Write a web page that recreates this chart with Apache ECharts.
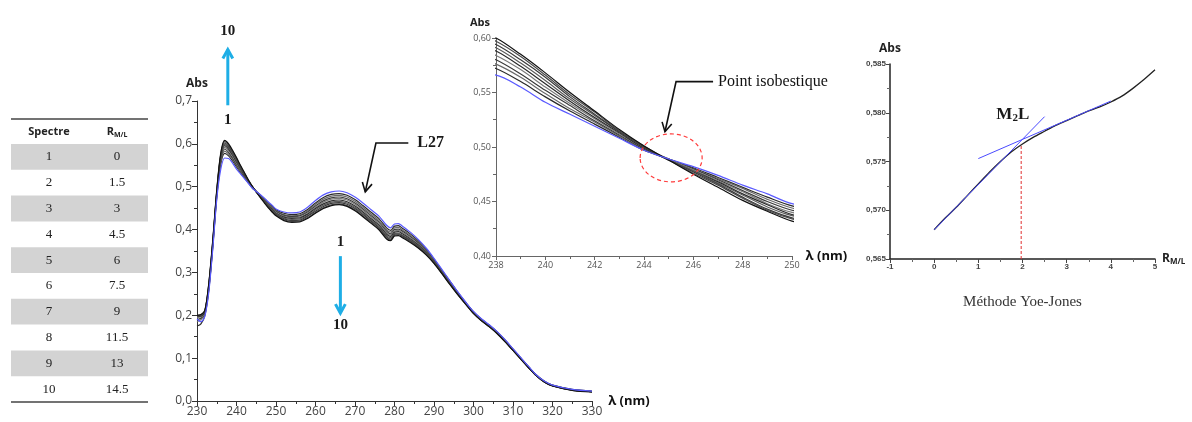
<!DOCTYPE html>
<html>
<head>
<meta charset="utf-8">
<script src="https://cdn.jsdelivr.net/npm/echarts@6/dist/echarts.min.js"></script>
<style>
html, body { margin: 0; background: #fff; }
#main { width: 1192px; height: 422px; }
</style>
</head>
<body>
<div id="main"></div>
<script>
// wavelengths (nm)
var nm = [230,231,232,233,234,235,236,237,238,239,240,241,242,243,244,245,246,247,248,249,250,252,254,256,258,260,262,264,266,268,270,272,274,276,278,279,280,281,282,284,286,288,290,292,294,296,298,300,302,304,306,308,310,312,314,316,318,320,325,330];

// absorbance of spectra 1..10 (1 = blue)
var spec1 = [0.192,0.185,0.198,0.255,0.355,0.470,0.540,0.567,0.566,0.555,0.541,0.530,0.519,0.508,0.497,0.489,0.482,0.474,0.465,0.457,0.448,0.441,0.439,0.441,0.452,0.468,0.481,0.488,0.490,0.486,0.476,0.462,0.447,0.432,0.410,0.404,0.413,0.414,0.408,0.394,0.377,0.357,0.333,0.307,0.281,0.255,0.231,0.209,0.192,0.178,0.162,0.143,0.122,0.101,0.080,0.060,0.046,0.037,0.027,0.023];
var spec2 = [0.175,0.180,0.200,0.260,0.360,0.475,0.552,0.578,0.572,0.560,0.546,0.533,0.521,0.509,0.497,0.489,0.481,0.472,0.463,0.454,0.446,0.438,0.435,0.437,0.447,0.462,0.475,0.482,0.484,0.480,0.470,0.456,0.441,0.426,0.404,0.398,0.408,0.409,0.403,0.390,0.374,0.355,0.331,0.305,0.280,0.254,0.230,0.208,0.191,0.177,0.161,0.142,0.121,0.100,0.079,0.060,0.046,0.037,0.027,0.023];
var spec3 = [0.185,0.190,0.203,0.262,0.362,0.478,0.556,0.583,0.576,0.564,0.549,0.535,0.523,0.510,0.498,0.489,0.480,0.471,0.462,0.452,0.444,0.435,0.432,0.434,0.444,0.459,0.471,0.478,0.480,0.476,0.466,0.452,0.437,0.422,0.400,0.394,0.404,0.405,0.399,0.387,0.371,0.352,0.329,0.304,0.279,0.253,0.230,0.208,0.191,0.177,0.161,0.142,0.121,0.100,0.079,0.059,0.045,0.037,0.026,0.022];
var spec4 = [0.190,0.193,0.205,0.264,0.364,0.480,0.560,0.588,0.580,0.567,0.552,0.538,0.524,0.511,0.498,0.489,0.480,0.470,0.460,0.450,0.442,0.433,0.430,0.432,0.441,0.455,0.467,0.474,0.476,0.472,0.462,0.448,0.433,0.418,0.396,0.390,0.400,0.401,0.396,0.384,0.369,0.350,0.328,0.303,0.278,0.252,0.229,0.207,0.190,0.176,0.160,0.141,0.120,0.099,0.079,0.059,0.045,0.036,0.026,0.022];
var spec5 = [0.195,0.196,0.207,0.266,0.366,0.482,0.563,0.592,0.584,0.571,0.555,0.540,0.526,0.512,0.499,0.489,0.479,0.469,0.459,0.448,0.440,0.431,0.428,0.429,0.438,0.452,0.464,0.471,0.473,0.469,0.459,0.445,0.430,0.415,0.393,0.387,0.397,0.398,0.393,0.381,0.366,0.348,0.326,0.302,0.277,0.252,0.229,0.207,0.190,0.176,0.160,0.141,0.120,0.099,0.078,0.059,0.045,0.036,0.026,0.022];
var spec6 = [0.197,0.198,0.208,0.268,0.368,0.484,0.566,0.596,0.588,0.574,0.558,0.542,0.527,0.513,0.499,0.488,0.478,0.468,0.457,0.447,0.438,0.429,0.426,0.427,0.436,0.449,0.460,0.467,0.469,0.465,0.455,0.441,0.426,0.411,0.389,0.384,0.394,0.395,0.390,0.378,0.364,0.346,0.325,0.301,0.276,0.251,0.228,0.206,0.189,0.175,0.159,0.140,0.119,0.099,0.078,0.059,0.045,0.036,0.026,0.022];
var spec7 = [0.198,0.200,0.209,0.270,0.370,0.486,0.569,0.599,0.591,0.577,0.561,0.544,0.529,0.514,0.500,0.488,0.478,0.467,0.456,0.445,0.437,0.427,0.424,0.425,0.433,0.446,0.457,0.464,0.466,0.462,0.452,0.438,0.423,0.408,0.386,0.381,0.391,0.392,0.387,0.376,0.362,0.345,0.324,0.300,0.275,0.250,0.228,0.206,0.189,0.175,0.159,0.140,0.119,0.098,0.078,0.058,0.045,0.036,0.026,0.022];
var spec8 = [0.199,0.200,0.210,0.272,0.372,0.488,0.572,0.602,0.594,0.580,0.564,0.546,0.530,0.514,0.500,0.488,0.477,0.466,0.454,0.443,0.435,0.425,0.421,0.422,0.431,0.443,0.454,0.461,0.463,0.459,0.449,0.435,0.420,0.405,0.383,0.378,0.389,0.390,0.385,0.374,0.360,0.343,0.323,0.299,0.274,0.250,0.227,0.205,0.188,0.174,0.158,0.139,0.118,0.098,0.077,0.058,0.044,0.036,0.026,0.022];
var spec9 = [0.200,0.201,0.211,0.274,0.374,0.490,0.575,0.605,0.597,0.583,0.566,0.548,0.532,0.515,0.501,0.488,0.476,0.465,0.453,0.442,0.434,0.423,0.419,0.420,0.428,0.440,0.451,0.458,0.460,0.456,0.446,0.432,0.417,0.402,0.380,0.376,0.387,0.388,0.383,0.372,0.358,0.342,0.322,0.298,0.273,0.249,0.226,0.205,0.188,0.174,0.158,0.139,0.118,0.098,0.077,0.058,0.044,0.035,0.025,0.022];
var spec10 = [0.200,0.202,0.212,0.276,0.376,0.492,0.578,0.608,0.600,0.585,0.568,0.550,0.533,0.516,0.501,0.488,0.475,0.463,0.451,0.441,0.432,0.421,0.417,0.418,0.426,0.438,0.449,0.456,0.458,0.454,0.444,0.430,0.415,0.400,0.378,0.374,0.385,0.386,0.381,0.370,0.357,0.341,0.321,0.297,0.272,0.248,0.226,0.204,0.187,0.173,0.157,0.138,0.118,0.097,0.077,0.058,0.044,0.035,0.025,0.021];
var spectra = [spec1, spec2, spec3, spec4, spec5, spec6, spec7, spec8, spec9, spec10];

// table
var spectreNo = ['1','2','3','4','5','6','7','8','9','10'];
var ratioML = ['0','1.5','3','4.5','6','7.5','9','11.5','13','14.5'];

// Yoe-Jones plot
var yjR = [0,0.25,0.5,0.75,1,1.25,1.5,1.75,2,2.25,2.5,2.75,3,3.25,3.5,3.75,4,4.25,4.5,4.75,5];
var yjAbs = [0.5680,0.5692,0.5703,0.5715,0.5727,0.5739,0.5750,0.5760,0.5768,0.5775,0.5781,0.5787,0.5792,0.5797,0.5802,0.5806,0.5811,0.5817,0.5825,0.5834,0.5844];
var tan1R = [0, 2.5], tan1Abs = [0.5680, 0.5796];
var tan2R = [1, 4], tan2Abs = [0.5753, 0.5812];
var dropR = [1.97, 1.97], dropAbs = [0.565, 0.5768];

var lineColors = ['#5a5aff','#2a2a2a','#6a6a6a','#3a3a3a','#7a7a7a','#2a2a2a','#5a5a5a','#3a3a3a','#4a4a4a','#111111'];

var chart = echarts.init(document.getElementById('main'));

function comma(d) {
    return function (v) { return v.toFixed(d).replace('.', ','); };
}

function axis(grid, min, max, interval, opts) {
    var a = {
        gridIndex: grid, type: 'value', min: min, max: max, interval: interval,
        splitLine: { show: false },
        axisLine: { onZero: false, lineStyle: { color: '#333', width: 1 } },
        axisTick: { length: 5, lineStyle: { color: '#333' } },
        minorTick: { show: true, splitNumber: 2, length: 3, lineStyle: { color: '#333' } },
        axisLabel: { fontFamily: 'Open Sans', fontSize: 12, color: '#444', margin: 5 }
    };
    for (var k in opts) {
        if (typeof opts[k] === 'object' && a[k]) { Object.assign(a[k], opts[k]); }
        else { a[k] = opts[k]; }
    }
    return a;
}

var series = [];
for (var g = 0; g < 2; g++) {
    spectra.forEach(function (s, i) {
        series.push({
            type: 'line', xAxisIndex: g, yAxisIndex: g,
            data: nm.map(function (x, j) { return [x, s[j]]; }),
            showSymbol: false, smooth: 0.3, clip: true,
            lineStyle: { width: 1.2, color: lineColors[i] },
            z: i === 0 ? 4 : 3
        });
    });
}
series.push({
    type: 'line', xAxisIndex: 2, yAxisIndex: 2, showSymbol: false, smooth: 0.3,
    data: yjR.map(function (x, j) { return [x, yjAbs[j]]; }),
    lineStyle: { width: 1.3, color: '#222' }, z: 3
});
[[tan1R, tan1Abs], [tan2R, tan2Abs]].forEach(function (t) {
    series.push({
        type: 'line', xAxisIndex: 2, yAxisIndex: 2, showSymbol: false,
        data: t[0].map(function (x, j) { return [x, t[1][j]]; }),
        lineStyle: { width: 1, color: '#4a4aff' }, z: 4
    });
});
series.push({
    type: 'line', xAxisIndex: 2, yAxisIndex: 2, showSymbol: false,
    data: dropR.map(function (x, j) { return [x, dropAbs[j]]; }),
    lineStyle: { width: 1, color: '#e03030', type: [3, 2] }, z: 2
});

var absName = { fontFamily: 'Open Sans', fontWeight: 'bold', fontSize: 12, color: '#222' };

var option = {
    animation: false,
    backgroundColor: '#fff',
    grid: [
        { left: 197, top: 101, width: 395, height: 300 },
        { left: 496, top: 38, width: 296, height: 218 },
        { left: 890, top: 64, width: 265, height: 195 }
    ],
    xAxis: [
        axis(0, 230, 330, 10, {
            name: 'λ (nm)', nameLocation: 'end', nameGap: 12,
            nameTextStyle: { fontFamily: 'Open Sans', fontWeight: 'bold', fontSize: 13, color: '#111' }
        }),
        axis(1, 238, 250, 2, {
            name: 'λ (nm)', nameLocation: 'end', nameGap: 9,
            nameTextStyle: { fontFamily: 'Open Sans', fontWeight: 'bold', fontSize: 13, color: '#111' },
            axisLabel: { fontSize: 9, color: '#555', margin: 5 },
            axisLine: { lineStyle: { color: '#666' } },
            axisTick: { length: 4, lineStyle: { color: '#666' } },
            minorTick: { length: 3, lineStyle: { color: '#666' } }
        }),
        axis(2, -1, 5, 1, {
            name: '{r|R}{s|M/L}', nameLocation: 'end', nameGap: 7,
            nameTextStyle: { rich: {
                r: { fontFamily: 'Open Sans', fontWeight: 'bold', fontSize: 12, color: '#222' },
                s: { fontFamily: 'Open Sans', fontWeight: 'bold', fontSize: 8, color: '#222', verticalAlign: 'bottom', padding: [6, 0, 0, 0] }
            } },
            axisLabel: { fontSize: 8, fontWeight: 'bold', color: '#444', margin: 4, fontFamily: 'Liberation Sans' },
            axisLine: { lineStyle: { color: '#222', width: 1.5 } },
            axisTick: { length: 4, lineStyle: { color: '#444' } },
            minorTick: { length: 3, lineStyle: { color: '#666' } }
        })
    ],
    yAxis: [
        axis(0, 0, 0.7, 0.1, {
            name: 'Abs', nameLocation: 'end', nameGap: 11, nameTextStyle: absName,
            axisLabel: { formatter: comma(1) }
        }),
        axis(1, 0.40, 0.60, 0.05, {
            name: 'Abs', nameLocation: 'end', nameGap: 10,
            nameTextStyle: { fontFamily: 'Open Sans', fontWeight: 'bold', fontSize: 11, color: '#222', padding: [0, 32, 0, 0] },
            axisLabel: { formatter: comma(2), fontSize: 9, color: '#555' },
            axisLine: { lineStyle: { color: '#666' } },
            axisTick: { length: 4, lineStyle: { color: '#666' } },
            minorTick: { length: 3, lineStyle: { color: '#666' } }
        }),
        axis(2, 0.565, 0.585, 0.005, {
            name: 'Abs', nameLocation: 'end', nameGap: 9, nameTextStyle: absName,
            axisLabel: { formatter: comma(3), fontSize: 8, fontWeight: 'bold', color: '#444', margin: 4, fontFamily: 'Liberation Sans' },
            axisLine: { lineStyle: { color: '#222', width: 1.5 } },
            axisTick: { length: 4, lineStyle: { color: '#444' } },
            minorTick: { length: 3, lineStyle: { color: '#666' } }
        })
    ],
    series: series
};
chart.setOption(option);

// ---- annotations ----
var px = function (grid, x, y) { return chart.convertToPixel({ gridIndex: grid }, [x, y]); };
var serifBold = { fontFamily: 'Liberation Serif', fontWeight: 'bold', fill: '#1a1a1a' };
var cyan = '#1eaee6';
var gr = [];

function txt(x, y, text, style) {
    gr.push({ type: 'text', x: x, y: y, z: 10,
        style: Object.assign({ text: text, align: 'center', verticalAlign: 'middle' }, style) });
}
function arrow(pts, color, width, head) {
    gr.push({ type: 'polyline', z: 10, shape: { points: pts }, style: { stroke: color, lineWidth: width, fill: null } });
    var a = pts[pts.length - 2], b = pts[pts.length - 1];
    var ang = Math.atan2(b[1] - a[1], b[0] - a[0]);
    var l = head, w = head * 0.55;
    var p1 = [b[0] - l * Math.cos(ang) + w * Math.sin(ang), b[1] - l * Math.sin(ang) - w * Math.cos(ang)];
    var p2 = [b[0] - l * Math.cos(ang) - w * Math.sin(ang), b[1] - l * Math.sin(ang) + w * Math.cos(ang)];
    gr.push({ type: 'polyline', z: 10, shape: { points: [p1, b, p2] }, style: { stroke: color, lineWidth: width, fill: null } });
}

// table
var tl = 11, tr = 148, rowTop = 144, rowH = 25.8;
gr.push({ type: 'line', shape: { x1: tl, y1: 119, x2: tr, y2: 119 }, style: { stroke: '#444', lineWidth: 1.5 } });
txt(49, 132, 'Spectre', { fontFamily: 'Open Sans', fontWeight: 'bold', fontSize: 11, fill: '#222' });
gr.push({ type: 'text', x: 117, y: 132, z: 10, style: {
    text: '{r|R}{s|M/L}', align: 'center', verticalAlign: 'middle',
    rich: { r: { fontFamily: 'Open Sans', fontWeight: 'bold', fontSize: 11, fill: '#222' },
            s: { fontFamily: 'Open Sans', fontWeight: 'bold', fontSize: 7, fill: '#222', padding: [5, 0, 0, 0] } } } });
spectreNo.forEach(function (s, i) {
    var y = rowTop + i * rowH;
    if (i % 2 === 0) {
        gr.push({ type: 'rect', shape: { x: tl, y: y, width: tr - tl, height: rowH }, style: { fill: '#d3d3d3' } });
    }
    txt(49, y + rowH / 2, s, { fontFamily: 'Liberation Serif', fontSize: 13, fill: '#222' });
    txt(117, y + rowH / 2, ratioML[i], { fontFamily: 'Liberation Serif', fontSize: 13, fill: '#222' });
});
gr.push({ type: 'line', shape: { x1: tl, y1: rowTop + 10 * rowH, x2: tr, y2: rowTop + 10 * rowH }, style: { stroke: '#444', lineWidth: 1.5 } });

// cyan arrows on the main spectra
var up0 = px(0, 237.8, 0.69), up1 = px(0, 237.8, 0.82);
arrow([up0, up1], cyan, 3, 9);
txt(up0[0], px(0, 0, 0.656)[1], '1', Object.assign({ fontSize: 15 }, serifBold));
txt(up0[0], px(0, 0, 0.862)[1], '10', Object.assign({ fontSize: 15 }, serifBold));
var dn0 = px(0, 266.3, 0.338), dn1 = px(0, 266.3, 0.205);
arrow([dn0, dn1], cyan, 3, 9);
txt(dn0[0], px(0, 0, 0.370)[1], '1', Object.assign({ fontSize: 15 }, serifBold));
txt(dn0[0], px(0, 0, 0.178)[1], '10', Object.assign({ fontSize: 15 }, serifBold));

// L27 callout
var c0 = px(0, 283.5, 0.602), c1 = px(0, 275.3, 0.602), c2 = px(0, 272.6, 0.488);
arrow([c0, c1, c2], '#111', 1.6, 9);
gr.push({ type: 'text', x: c0[0] + 9, y: c0[1], z: 10, style: Object.assign({ text: 'L27', fontSize: 16, align: 'left', verticalAlign: 'middle' }, serifBold) });

// isosbestic callout + ellipse
var e = px(1, 245.1, 0.490);
gr.push({ type: 'ellipse', z: 9, shape: { cx: e[0], cy: e[1], rx: 31, ry: 24 }, style: { stroke: '#ff3b3b', lineWidth: 1.2, lineDash: [4, 3], fill: null } });
var i0 = px(1, 246.8, 0.560), i1 = px(1, 245.3, 0.560), i2 = px(1, 244.85, 0.514);
arrow([i0, i1, i2], '#111', 1.6, 9);
gr.push({ type: 'text', x: i0[0] + 5, y: i0[1], z: 10, style: { text: 'Point isobestique', fontFamily: 'Liberation Serif', fontSize: 16, fill: '#111', align: 'left', verticalAlign: 'middle' } });

// Yoe-Jones labels
var m = px(2, 1.78, 0.5798);
gr.push({ type: 'text', x: m[0], y: m[1], z: 10, style: {
    text: '{a|M}{b|2}{a|L}', align: 'center', verticalAlign: 'middle',
    rich: { a: Object.assign({ fontSize: 17 }, serifBold), b: Object.assign({ fontSize: 11, padding: [7, 0, 0, 0] }, serifBold) } } });
txt(px(2, 2, 0)[0], 302, 'Méthode Yoe-Jones', { fontFamily: 'Liberation Serif', fontSize: 15, fill: '#333' });

chart.setOption({ graphic: gr });
</script>
</body>
</html>
